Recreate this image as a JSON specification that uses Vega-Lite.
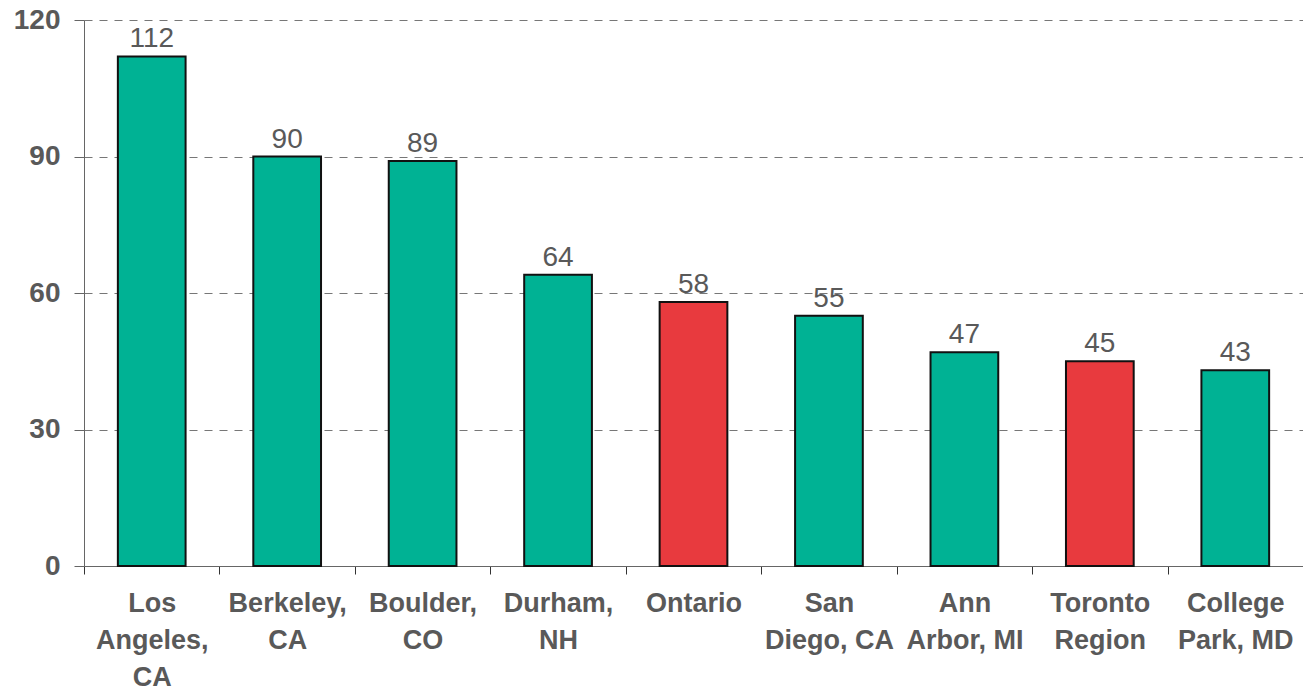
{
  "$schema": "https://vega.github.io/schema/vega-lite/v6.json",
  "autosize": {"type": "none"},
  "width": 1219,
  "height": 546,
  "padding": {"left": 84, "top": 20, "right": 0, "bottom": 124},
  "background": "white",
  "config": {
    "view": {"stroke": null},
    "font": "Liberation Sans"
  },
  "data": {
    "values": [
      {"city": "Los|Angeles,|CA", "value": 112, "group": "US"},
      {"city": "Berkeley,|CA", "value": 90, "group": "US"},
      {"city": "Boulder,|CO", "value": 89, "group": "US"},
      {"city": "Durham,|NH", "value": 64, "group": "US"},
      {"city": "Ontario", "value": 58, "group": "Canada"},
      {"city": "San|Diego, CA", "value": 55, "group": "US"},
      {"city": "Ann|Arbor, MI", "value": 47, "group": "US"},
      {"city": "Toronto|Region", "value": 45, "group": "Canada"},
      {"city": "College|Park, MD", "value": 43, "group": "US"}
    ]
  },
  "encoding": {
    "x": {
      "field": "city",
      "type": "nominal",
      "sort": null,
      "scale": {"paddingInner": 0, "paddingOuter": 0},
      "axis": {
        "title": null,
        "labelAngle": 0,
        "labelExpr": "datum.value == null ? '' : split(datum.value, '|')",
        "labelFont": "Liberation Sans",
        "labelFontSize": 27,
        "labelFontWeight": "bold",
        "labelColor": "#595959",
        "labelLineHeight": 37,
        "labelBaseline": "top",
        "labelPadding": 16,
        "tickBand": "extent",
        "tickSize": 8,
        "tickColor": "#333333",
        "domainColor": "#666666",
        "grid": false
      }
    },
    "y": {
      "field": "value",
      "type": "quantitative",
      "scale": {"domain": [0, 120], "nice": false},
      "axis": {
        "title": null,
        "values": [0, 30, 60, 90, 120],
        "labelFont": "Liberation Sans",
        "labelFontSize": 28,
        "labelFontWeight": "bold",
        "labelColor": "#595959",
        "labelPadding": 14,
        "tickSize": 10,
        "tickColor": "#666666",
        "domainColor": "#666666",
        "grid": true,
        "gridColor": "#777777",
        "gridDash": [8, 7],
        "gridWidth": 1.2
      }
    }
  },
  "layer": [
    {
      "mark": {"type": "bar", "stroke": "#111111", "strokeWidth": 2, "width": {"band": 0.5}},
      "encoding": {
        "color": {
          "field": "group",
          "type": "nominal",
          "scale": {"domain": ["US", "Canada"], "range": ["#00B294", "#E83A3E"]},
          "legend": null
        }
      }
    },
    {
      "mark": {"type": "text", "dy": -9, "baseline": "alphabetic", "fontSize": 28, "color": "#595959", "font": "Liberation Sans"},
      "encoding": {
        "text": {"field": "value", "type": "quantitative"}
      }
    }
  ]
}
